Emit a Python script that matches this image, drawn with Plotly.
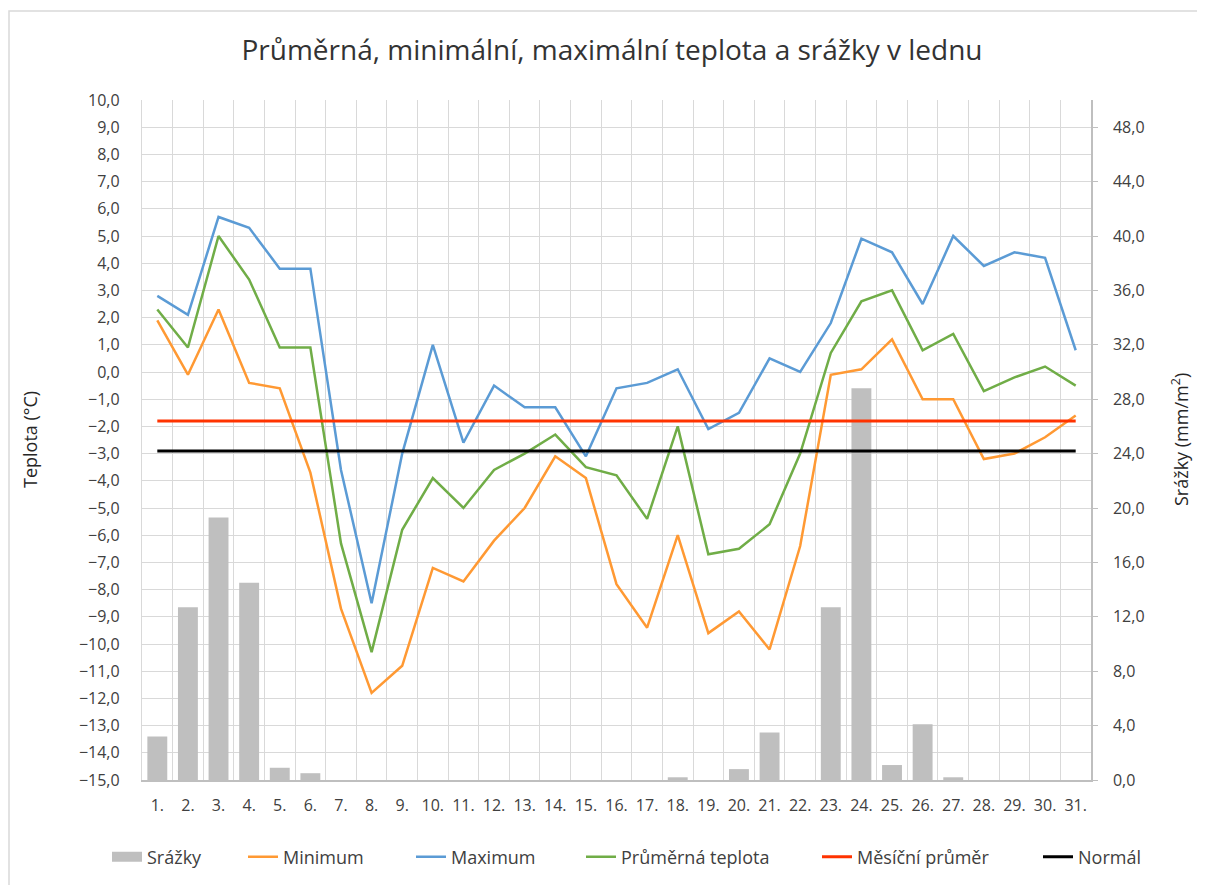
import plotly.graph_objects as go

days = list(range(1, 32))
day_labels = ["1.", "2.", "3.", "4.", "5.", "6.", "7.", "8.", "9.", "10.", "11.", "12.", "13.", "14.", "15.", "16.",
              "17.", "18.", "19.", "20.", "21.", "22.", "23.", "24.", "25.", "26.", "27.", "28.", "29.", "30.", "31."]

precip = [3.2, 12.7, 19.3, 14.5, 0.9, 0.5, 0, 0, 0, 0, 0, 0, 0, 0, 0, 0,
          0, 0.2, 0, 0.8, 3.5, 0, 12.7, 28.8, 1.1, 4.1, 0.2, 0, 0, 0, 0]
t_min = [1.9, -0.1, 2.3, -0.4, -0.6, -3.7, -8.7, -11.8, -10.8, -7.2, -7.7, -6.2, -5.0, -3.1, -3.9, -7.8,
         -9.4, -6.0, -9.6, -8.8, -10.2, -6.4, -0.1, 0.1, 1.2, -1.0, -1.0, -3.2, -3.0, -2.4, -1.6]
t_max = [2.8, 2.1, 5.7, 5.3, 3.8, 3.8, -3.6, -8.5, -3.0, 1.0, -2.6, -0.5, -1.3, -1.3, -3.1, -0.6,
         -0.4, 0.1, -2.1, -1.5, 0.5, 0.0, 1.8, 4.9, 4.4, 2.5, 5.0, 3.9, 4.4, 4.2, 0.8]
t_avg = [2.3, 0.9, 5.0, 3.4, 0.9, 0.9, -6.3, -10.3, -5.8, -3.9, -5.0, -3.6, -3.0, -2.3, -3.5, -3.8,
         -5.4, -2.0, -6.7, -6.5, -5.6, -3.0, 0.7, 2.6, 3.0, 0.8, 1.4, -0.7, -0.2, 0.2, -0.5]
monthly_mean = [-1.8] * 31
normal = [-2.9] * 31

FONT = "Open Sans"
TXT = "#404040"

# page offset of plotly div (body margin) compensated in margins
OFF = 8
PL, PR, PT, PB = 142, 1091, 100, 780   # plot area in page pixels
W, H = 1205, 885


def px_x(px):
    return (px - PL) / (PR - PL)


def px_y(py):
    return (PB - py) / (PB - PT)


fig = go.Figure()
fig.add_trace(go.Bar(x=days, y=precip, name="Srážky", marker=dict(color="#BFBFBF", line=dict(width=0)),
                     width=0.65, yaxis="y", showlegend=False, legendgroup="srazky"))
# legend key for the bars (wide grey block like the original)
fig.add_trace(go.Scatter(x=[None], y=[None], name="Srážky", mode="lines", legendgroup="srazky",
                         line=dict(color="#BFBFBF", width=14), yaxis="y", legend="legend"))
fig.add_trace(go.Scatter(x=days, y=t_min, name="Minimum", mode="lines",
                         line=dict(color="#FF9933", width=2.5), yaxis="y2", legend="legend2"))
fig.add_trace(go.Scatter(x=days, y=t_max, name="Maximum", mode="lines",
                         line=dict(color="#5B9BD5", width=2.5), yaxis="y2", legend="legend3"))
fig.add_trace(go.Scatter(x=days, y=t_avg, name="Průměrná teplota", mode="lines",
                         line=dict(color="#70AD47", width=2.5), yaxis="y2", legend="legend4"))
fig.add_trace(go.Scatter(x=days, y=monthly_mean, name="Měsíční průměr", mode="lines",
                         line=dict(color="#FF3300", width=3), yaxis="y2", legend="legend5"))
fig.add_trace(go.Scatter(x=days, y=normal, name="Normál", mode="lines",
                         line=dict(color="#000000", width=3), yaxis="y2", legend="legend6"))

text_starts = [149, 285, 453, 623, 859, 1080]
legend_y = px_y(857)


def leg(px_text):
    return dict(orientation="h", x=px_x(px_text - 42), xanchor="left", y=legend_y, yanchor="middle",
                font=dict(family=FONT, size=18, color=TXT), bgcolor="rgba(0,0,0,0)", borderwidth=0)


fig.update_layout(
    width=W, height=H, autosize=False,
    margin=dict(l=PL - OFF, r=W - (PR - OFF), t=PT - OFF, b=H - (PB - OFF)),
    paper_bgcolor="white", plot_bgcolor="white",
    separators=", ",
    font=dict(family=FONT, size=16, color=TXT),
    title=dict(text="Průměrná, minimální, maximální teplota a srážky v lednu",
               x=(612 - OFF) / W, xanchor="center", xref="container",
               y=1 - (50 - OFF) / H, yanchor="middle", yref="container",
               font=dict(family=FONT, size=28, color="#333333")),
    showlegend=True,
    legend=leg(text_starts[0]),
    legend2=leg(text_starts[1]),
    legend3=leg(text_starts[2]),
    legend4=leg(text_starts[3]),
    legend5=leg(text_starts[4]),
    legend6=leg(text_starts[5]),
    xaxis=dict(range=[0.5, 31.5], tickmode="array", tickvals=days, ticktext=day_labels,
               showgrid=False, zeroline=False, showline=True, linecolor="#BFBFBF", linewidth=1.5,
               ticks="", ticklabelstandoff=10, tickfont=dict(size=16, color=TXT),
               minor=dict(tickmode="linear", tick0=0.5, dtick=1, showgrid=True,
                          gridcolor="#D9D9D9", gridwidth=1.3, ticks="")),
    yaxis=dict(side="right", range=[0, 50], tickmode="linear", tick0=0, dtick=4, tickformat=".1f",
               showgrid=False, zeroline=False, showline=True, linecolor="#BFBFBF", linewidth=1.5,
               ticks="outside", ticklen=5, tickcolor="#BFBFBF", ticklabelstandoff=12,
               tickfont=dict(size=16, color=TXT)),
    yaxis2=dict(overlaying="y", side="left", range=[-15, 10], tickmode="linear", tick0=-15, dtick=1,
                tickformat=".1f", showgrid=True, gridcolor="#D9D9D9", gridwidth=1.3,
                zeroline=False, showline=True, linecolor="#D9D9D9", linewidth=1.3,
                ticks="", ticklabelstandoff=18, tickfont=dict(size=16, color=TXT)),
    annotations=[
        dict(text="Teplota (°C)", xref="paper", yref="paper", x=px_x(30), y=0.5,
             textangle=-90, showarrow=False, font=dict(family=FONT, size=18, color="#262626"),
             xanchor="center", yanchor="middle"),
        dict(text="Srážky (mm/m<sup>2</sup>)", xref="paper", yref="paper", x=px_x(1180), y=0.5,
             textangle=-90, showarrow=False, font=dict(family=FONT, size=18, color="#262626"),
             xanchor="center", yanchor="middle"),
    ],
    shapes=[
        dict(type="rect", xref="paper", yref="paper",
             x0=px_x(9), x1=px_x(1225), y0=px_y(900), y1=px_y(11),
             line=dict(color="#D9D9D9", width=1.5), fillcolor="rgba(0,0,0,0)", layer="below"),
    ],
)

fig.write_html("out.html")
